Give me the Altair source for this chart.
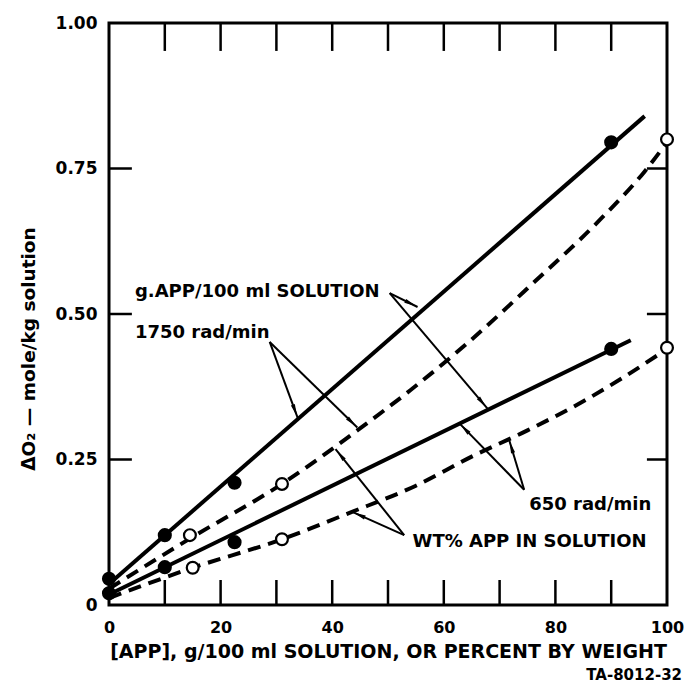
import math
import altair as alt
import pandas as pd

# ---------------- values ----------------
# fitted straight lines, g APP / 100 ml solution (solid)
fit1750_x = [0, 96]
fit1750_y = [0.036, 0.840]
fit650_x = [0, 93.5]
fit650_y = [0.018, 0.455]

# dashed curves, WT% APP in solution
wt1750_x = [0, 15, 31, 44.5, 54, 64, 76, 88, 96, 100]
wt1750_y = [0.028, 0.117, 0.208, 0.300, 0.369, 0.448, 0.553, 0.662, 0.745, 0.795]
wt650_x = [0, 15, 31, 43, 55, 65, 75, 85, 92, 100]
wt650_y = [0.012, 0.064, 0.113, 0.158, 0.205, 0.255, 0.300, 0.350, 0.390, 0.440]

# measured points
g1750_px = [0, 10, 22.5, 90]
g1750_py = [0.045, 0.12, 0.21, 0.795]
g650_px = [0, 10, 22.5, 90]
g650_py = [0.02, 0.065, 0.108, 0.44]
w1750_px = [14.5, 31, 100]
w1750_py = [0.12, 0.208, 0.80]
w650_px = [15, 31, 100]
w650_py = [0.064, 0.113, 0.442]

# annotation labels
label_text = ["g.APP/100 ml SOLUTION", "1750 rad/min", "650 rad/min", "WT% APP IN SOLUTION"]
label_x = [4.65, 4.65, 75.3, 54.4]
label_y = [0.538, 0.467, 0.172, 0.108]

# annotation arrows (from vertex to target)
arrow_x1 = [50.3, 50.3, 28.8, 28.8, 74.4, 74.4, 52.9, 52.9]
arrow_y1 = [0.536, 0.536, 0.452, 0.452, 0.198, 0.198, 0.120, 0.120]
arrow_x2 = [55.3, 67.8, 33.8, 44.5, 62.8, 71.7, 40.6, 43.6]
arrow_y2 = [0.512, 0.338, 0.322, 0.305, 0.312, 0.284, 0.268, 0.160]

x_tick_values = [0, 20, 40, 60, 80, 100]
y_tick_values = [0, 0.25, 0.5, 0.75, 1.0]
x_minor = [10, 20, 30, 40, 50, 60, 70, 80, 90]
y_minor = [0.25, 0.5, 0.75]

x_title = "[APP], g/100 ml SOLUTION, OR PERCENT BY WEIGHT"
y_title = "\u0394O\u2082 \u2014 mole/kg solution"
ref_code = "TA-8012-32"

# ---------------- layout ----------------
W, H = 558, 582
FONT = "DejaVu Sans"

XS = alt.Scale(domain=[0, 100], nice=False, zero=False)
YS = alt.Scale(domain=[0, 1], nice=False, zero=False)

x_axis = alt.Axis(values=x_tick_values, title=x_title, ticks=False, tickSize=0,
                  domain=False, grid=False, labelFlush=False,
                  labelFont=FONT, labelFontSize=16, labelFontWeight="bold",
                  labelColor="black", labelPadding=14,
                  titleFont=FONT, titleFontSize=19, titleFontWeight="bold",
                  titleColor="black", titlePadding=7)
y_axis = alt.Axis(values=y_tick_values, title=None, ticks=False, tickSize=0,
                  domain=False, grid=False, labelFlush=False,
                  labelExpr="datum.value == 0 ? '0' : format(datum.value, '.2f')",
                  labelFont=FONT, labelFontSize=17, labelFontWeight="bold",
                  labelColor="black", labelPadding=12)


def xe(f):
    return alt.X(f, type="quantitative", scale=XS, axis=x_axis)


def ye(f):
    return alt.Y(f, type="quantitative", scale=YS, axis=y_axis)


solid_df = pd.DataFrame({
    "x": fit1750_x + fit650_x,
    "y": fit1750_y + fit650_y,
    "s": ["1750"] * len(fit1750_x) + ["650"] * len(fit650_x),
})
dash_df = pd.DataFrame({
    "x": wt1750_x + wt650_x,
    "y": wt1750_y + wt650_y,
    "s": ["1750"] * len(wt1750_x) + ["650"] * len(wt650_x),
})
filled_df = pd.DataFrame({"x": g1750_px + g650_px, "y": g1750_py + g650_py})
open_df = pd.DataFrame({"x": w1750_px + w650_px, "y": w1750_py + w650_py})
label_df = pd.DataFrame({"x": label_x, "y": label_y, "t": label_text})
arrow_df = pd.DataFrame({"x1": arrow_x1, "y1": arrow_y1, "x2": arrow_x2, "y2": arrow_y2})

# arrowheads: oriented in pixel space, placed just before the arrow end
heads = []
sx, sy = W / 100.0, H / 1.0
for a, b, c, d in zip(arrow_x1, arrow_y1, arrow_x2, arrow_y2):
    dxp = (c - a) * sx
    dyp = (d - b) * sy
    L = math.hypot(dxp, dyp)
    back = 8.5
    cx = c - dxp / L * back / sx
    cy = d - dyp / L * back / sy
    ang = math.degrees(math.atan2(dxp, dyp)) % 360
    heads.append({"cx": cx, "cy": cy, "ang": ang})
head_df = pd.DataFrame(heads)

# inner ticks
bt_df = pd.DataFrame({"x": x_minor, "y0": [0.0] * len(x_minor), "y1": [0.043] * len(x_minor)})
tt_df = pd.DataFrame({"x": x_minor, "y0": [1.0] * len(x_minor), "y1": [0.952] * len(x_minor)})
lt_df = pd.DataFrame({"y": y_minor, "x0": [0.0] * len(y_minor), "x1": [4.1] * len(y_minor)})
rt_df = pd.DataFrame({"y": y_minor, "x0": [100.0] * len(y_minor), "x1": [96.4] * len(y_minor)})

solid = alt.Chart(solid_df).mark_line(color="black", strokeWidth=4).encode(
    x=xe("x"), y=ye("y"), detail="s:N")
dashed = alt.Chart(dash_df).mark_line(color="black", strokeWidth=4, strokeDash=[13, 8],
                                      interpolate="monotone").encode(
    x=xe("x"), y=ye("y"), detail="s:N")

ticks = [
    alt.Chart(bt_df).mark_rule(color="black", strokeWidth=2.5).encode(x=xe("x"), y=ye("y0"), y2="y1"),
    alt.Chart(tt_df).mark_rule(color="black", strokeWidth=2.5).encode(x=xe("x"), y=ye("y0"), y2="y1"),
    alt.Chart(lt_df).mark_rule(color="black", strokeWidth=2.5).encode(y=ye("y"), x=xe("x0"), x2="x1"),
    alt.Chart(rt_df).mark_rule(color="black", strokeWidth=2.5).encode(y=ye("y"), x=xe("x0"), x2="x1"),
]

arrows = alt.Chart(arrow_df).mark_rule(color="black", strokeWidth=2).encode(
    x=xe("x1"), y=ye("y1"), x2="x2", y2="y2")
arrowheads = alt.Chart(head_df).mark_point(
    shape="M0,-1L0.3,0.75L-0.3,0.75Z", filled=True, size=196, color="black", opacity=1
).encode(x=xe("cx"), y=ye("cy"), angle=alt.Angle("ang:Q", scale=None))

filled = alt.Chart(filled_df).mark_point(filled=True, shape="circle", size=200,
                                         color="black", opacity=1).encode(x=xe("x"), y=ye("y"))
opened = alt.Chart(open_df).mark_point(filled=True, shape="circle", size=140, fill="white",
                                       stroke="black", strokeWidth=2.2, opacity=1).encode(
    x=xe("x"), y=ye("y"))

labels = alt.Chart(label_df).mark_text(align="left", baseline="middle", font=FONT,
                                       fontSize=18, fontWeight="bold", color="black").encode(
    x=xe("x"), y=ye("y"), text="t:N")

ytitle = alt.Chart(pd.DataFrame({"t": [y_title]})).mark_text(
    angle=270, align="center", baseline="middle", font=FONT, fontSize=18.5,
    fontWeight="bold", color="black").encode(x=alt.value(-80), y=alt.value(326), text="t:N")

code = alt.Chart(pd.DataFrame({"t": [ref_code]})).mark_text(
    align="right", baseline="middle", font=FONT, fontSize=15, fontWeight="bold",
    color="black").encode(x=alt.value(573), y=alt.value(652), text="t:N")

chart = alt.layer(
    solid, dashed, *ticks, arrows, arrowheads, filled, opened, labels, ytitle, code
).properties(
    width=W, height=H,
    autosize=alt.AutoSizeParams(type="none"),
    padding={"left": 101, "top": 15, "right": 17, "bottom": 79},
    background="white",
).configure_view(stroke="black", strokeWidth=3)

chart.save("out.html", embed_options={"renderer": "svg", "actions": False})
